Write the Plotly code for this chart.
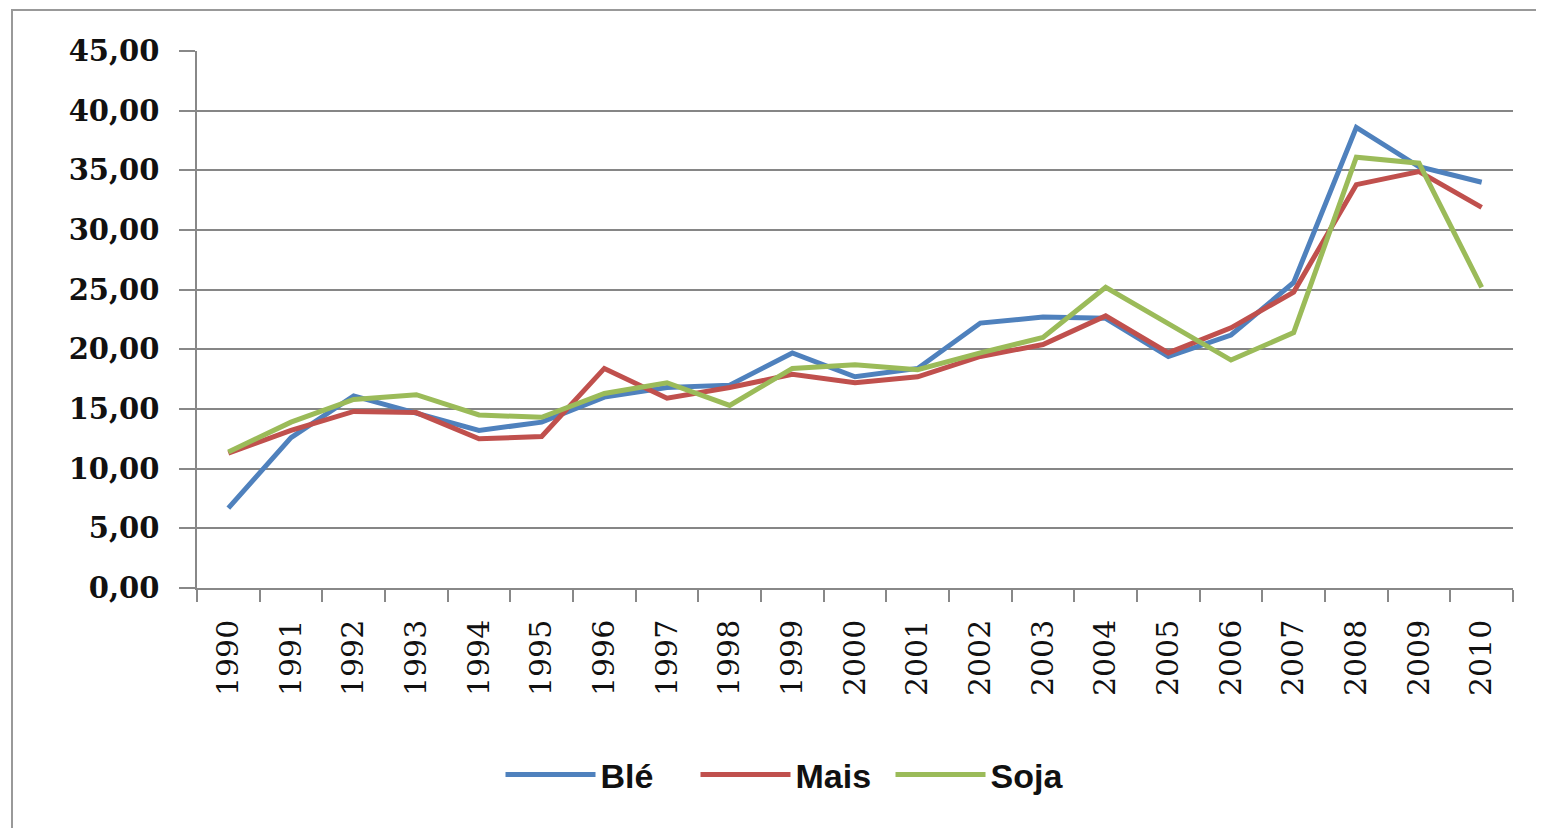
import plotly.graph_objects as go

years = [str(y) for y in range(1990, 2011)]
ble = [6.7, 12.6, 16.1, 14.7, 13.2, 13.9, 16.0, 16.8, 17.0, 19.7, 17.7, 18.4,
       22.2, 22.7, 22.6, 19.4, 21.2, 25.6, 38.6, 35.3, 34.0]
mais = [11.3, 13.2, 14.8, 14.7, 12.5, 12.7, 18.4, 15.9, 16.8, 17.9, 17.2, 17.7,
        19.4, 20.4, 22.8, 19.7, 21.8, 24.8, 33.8, 34.9, 31.9]
soja = [11.4, 13.9, 15.8, 16.2, 14.5, 14.3, 16.3, 17.2, 15.3, 18.4, 18.7, 18.3,
        19.7, 21.0, 25.2, 22.2, 19.1, 21.4, 36.1, 35.6, 25.2]
y_ticks = [0, 5, 10, 15, 20, 25, 30, 35, 40, 45]

series = [("Blé", ble, "#4F81BD"), ("Mais", mais, "#C0504D"), ("Soja", soja, "#9BBB59")]

fig = go.Figure()
for name, vals, col in series:
    fig.add_trace(go.Scatter(x=years, y=vals, name=name, mode="lines",
                             line=dict(color=col, width=5)))

OFF = 8  # default body margin of the page
W, H = 1544 - OFF, 828 - OFF
L, R, T, B = 197 - OFF, 31, 51 - OFF, 240
pw, ph = W - L - R, H - T - B

def px(x):
    return (x - OFF - L) / pw

def py(y):
    return (H - B - (y - OFF)) / ph

fig.update_layout(
    width=W, height=H,
    margin=dict(l=L, r=R, t=T, b=B),
    paper_bgcolor="white", plot_bgcolor="white",
    separators=", ",
    showlegend=True,
    legend=dict(orientation="h", x=px(793), xanchor="center", y=py(775), yanchor="middle",
                font=dict(family="Liberation Sans", size=34, color="#111", weight="bold"),
                itemwidth=90, entrywidth=90, tracegroupgap=0, bgcolor="rgba(0,0,0,0)"),
    xaxis=dict(type="category", range=[-0.5, 20.5], tickson="boundaries",
               ticks="outside", ticklen=12, tickcolor="#888", tickwidth=1.5,
               showline=True, linecolor="#888", linewidth=1.5,
               showgrid=False, tickangle=-90,
               tickfont=dict(family="DejaVu Serif", size=30, color="#111"),
               ticklabelstandoff=18),
    yaxis=dict(range=[0, 45], tickvals=y_ticks, tickformat=".2f",
               ticks="outside", ticklen=16, tickcolor="#888", tickwidth=1.5,
               showline=True, linecolor="#888", linewidth=1.5,
               showgrid=True, gridcolor="#868686", gridwidth=1.5,
               zeroline=False,
               tickfont=dict(family="DejaVu Serif", size=29, color="#111", weight="bold"),
               ticklabelstandoff=14),
    shapes=[dict(type="rect", xref="paper", yref="paper",
                 x0=px(12), x1=px(1600), y0=py(900), y1=py(10),
                 line=dict(color="#999", width=2), fillcolor="rgba(0,0,0,0)",
                 layer="below")],
)

fig.write_html("out.html")
